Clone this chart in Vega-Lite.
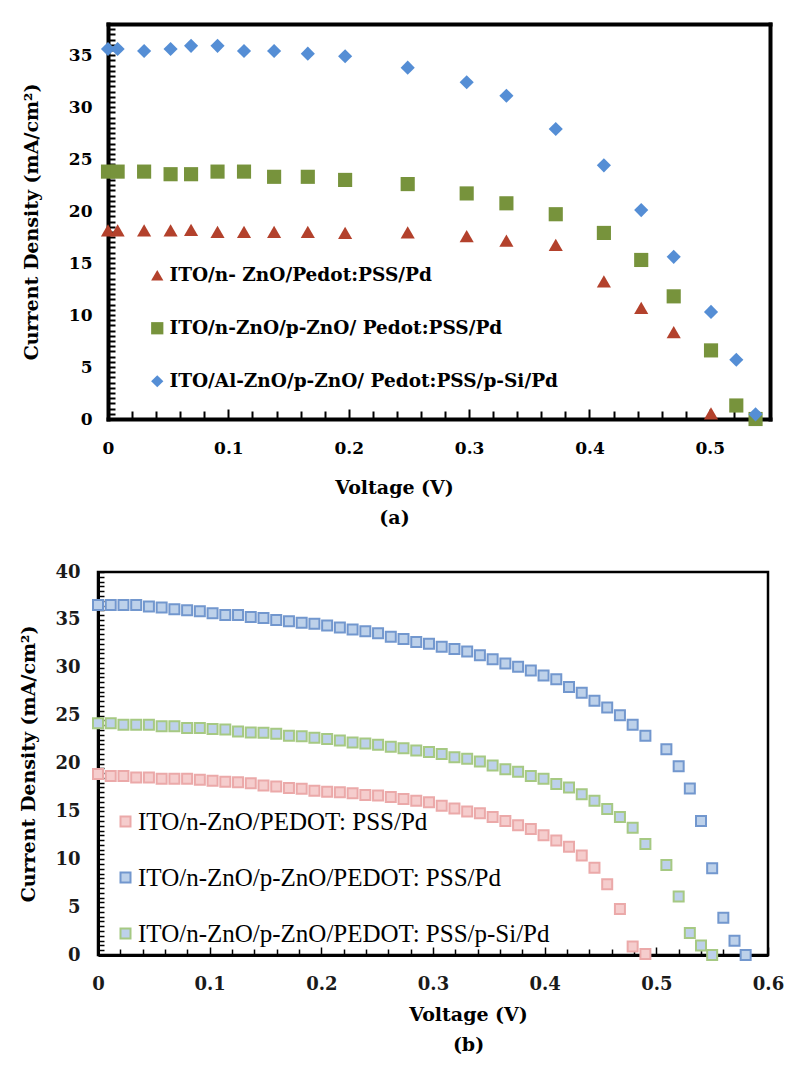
{
  "$schema": "https://vega.github.io/schema/vega-lite/v6.json",
  "background": "white",
  "padding": {"left": 17, "top": 15, "right": 5, "bottom": 5},
  "spacing": 34,
  "datasets": {
    "a": [
      {"V": 0, "J": 18.15, "s": "ITO/n- ZnO/Pedot:PSS/Pd"},
      {"V": 0.008, "J": 18.15, "s": "ITO/n- ZnO/Pedot:PSS/Pd"},
      {"V": 0.03, "J": 18.15, "s": "ITO/n- ZnO/Pedot:PSS/Pd"},
      {"V": 0.052, "J": 18.15, "s": "ITO/n- ZnO/Pedot:PSS/Pd"},
      {"V": 0.069, "J": 18.2, "s": "ITO/n- ZnO/Pedot:PSS/Pd"},
      {"V": 0.091, "J": 18.0, "s": "ITO/n- ZnO/Pedot:PSS/Pd"},
      {"V": 0.113, "J": 18.0, "s": "ITO/n- ZnO/Pedot:PSS/Pd"},
      {"V": 0.138, "J": 18.0, "s": "ITO/n- ZnO/Pedot:PSS/Pd"},
      {"V": 0.166, "J": 18.0, "s": "ITO/n- ZnO/Pedot:PSS/Pd"},
      {"V": 0.197, "J": 17.9, "s": "ITO/n- ZnO/Pedot:PSS/Pd"},
      {"V": 0.249, "J": 17.95, "s": "ITO/n- ZnO/Pedot:PSS/Pd"},
      {"V": 0.298, "J": 17.6, "s": "ITO/n- ZnO/Pedot:PSS/Pd"},
      {"V": 0.331, "J": 17.15, "s": "ITO/n- ZnO/Pedot:PSS/Pd"},
      {"V": 0.372, "J": 16.75, "s": "ITO/n- ZnO/Pedot:PSS/Pd"},
      {"V": 0.412, "J": 13.25, "s": "ITO/n- ZnO/Pedot:PSS/Pd"},
      {"V": 0.443, "J": 10.7, "s": "ITO/n- ZnO/Pedot:PSS/Pd"},
      {"V": 0.470, "J": 8.35, "s": "ITO/n- ZnO/Pedot:PSS/Pd"},
      {"V": 0.501, "J": 0.55, "s": "ITO/n- ZnO/Pedot:PSS/Pd"},
      {"V": 0, "J": 23.8, "s": "ITO/n-ZnO/p-ZnO/ Pedot:PSS/Pd"},
      {"V": 0.008, "J": 23.8, "s": "ITO/n-ZnO/p-ZnO/ Pedot:PSS/Pd"},
      {"V": 0.03, "J": 23.8, "s": "ITO/n-ZnO/p-ZnO/ Pedot:PSS/Pd"},
      {"V": 0.052, "J": 23.55, "s": "ITO/n-ZnO/p-ZnO/ Pedot:PSS/Pd"},
      {"V": 0.069, "J": 23.55, "s": "ITO/n-ZnO/p-ZnO/ Pedot:PSS/Pd"},
      {"V": 0.091, "J": 23.8, "s": "ITO/n-ZnO/p-ZnO/ Pedot:PSS/Pd"},
      {"V": 0.113, "J": 23.8, "s": "ITO/n-ZnO/p-ZnO/ Pedot:PSS/Pd"},
      {"V": 0.138, "J": 23.3, "s": "ITO/n-ZnO/p-ZnO/ Pedot:PSS/Pd"},
      {"V": 0.166, "J": 23.3, "s": "ITO/n-ZnO/p-ZnO/ Pedot:PSS/Pd"},
      {"V": 0.197, "J": 23.0, "s": "ITO/n-ZnO/p-ZnO/ Pedot:PSS/Pd"},
      {"V": 0.249, "J": 22.6, "s": "ITO/n-ZnO/p-ZnO/ Pedot:PSS/Pd"},
      {"V": 0.298, "J": 21.7, "s": "ITO/n-ZnO/p-ZnO/ Pedot:PSS/Pd"},
      {"V": 0.331, "J": 20.75, "s": "ITO/n-ZnO/p-ZnO/ Pedot:PSS/Pd"},
      {"V": 0.372, "J": 19.7, "s": "ITO/n-ZnO/p-ZnO/ Pedot:PSS/Pd"},
      {"V": 0.412, "J": 17.9, "s": "ITO/n-ZnO/p-ZnO/ Pedot:PSS/Pd"},
      {"V": 0.443, "J": 15.3, "s": "ITO/n-ZnO/p-ZnO/ Pedot:PSS/Pd"},
      {"V": 0.470, "J": 11.8, "s": "ITO/n-ZnO/p-ZnO/ Pedot:PSS/Pd"},
      {"V": 0.501, "J": 6.6, "s": "ITO/n-ZnO/p-ZnO/ Pedot:PSS/Pd"},
      {"V": 0.522, "J": 1.3, "s": "ITO/n-ZnO/p-ZnO/ Pedot:PSS/Pd"},
      {"V": 0.538, "J": 0, "s": "ITO/n-ZnO/p-ZnO/ Pedot:PSS/Pd"},
      {"V": 0, "J": 35.6, "s": "ITO/Al-ZnO/p-ZnO/ Pedot:PSS/p-Si/Pd"},
      {"V": 0.008, "J": 35.6, "s": "ITO/Al-ZnO/p-ZnO/ Pedot:PSS/p-Si/Pd"},
      {"V": 0.03, "J": 35.4, "s": "ITO/Al-ZnO/p-ZnO/ Pedot:PSS/p-Si/Pd"},
      {"V": 0.052, "J": 35.6, "s": "ITO/Al-ZnO/p-ZnO/ Pedot:PSS/p-Si/Pd"},
      {"V": 0.069, "J": 35.9, "s": "ITO/Al-ZnO/p-ZnO/ Pedot:PSS/p-Si/Pd"},
      {"V": 0.091, "J": 35.9, "s": "ITO/Al-ZnO/p-ZnO/ Pedot:PSS/p-Si/Pd"},
      {"V": 0.113, "J": 35.4, "s": "ITO/Al-ZnO/p-ZnO/ Pedot:PSS/p-Si/Pd"},
      {"V": 0.138, "J": 35.4, "s": "ITO/Al-ZnO/p-ZnO/ Pedot:PSS/p-Si/Pd"},
      {"V": 0.166, "J": 35.15, "s": "ITO/Al-ZnO/p-ZnO/ Pedot:PSS/p-Si/Pd"},
      {"V": 0.197, "J": 34.9, "s": "ITO/Al-ZnO/p-ZnO/ Pedot:PSS/p-Si/Pd"},
      {"V": 0.249, "J": 33.8, "s": "ITO/Al-ZnO/p-ZnO/ Pedot:PSS/p-Si/Pd"},
      {"V": 0.298, "J": 32.4, "s": "ITO/Al-ZnO/p-ZnO/ Pedot:PSS/p-Si/Pd"},
      {"V": 0.331, "J": 31.1, "s": "ITO/Al-ZnO/p-ZnO/ Pedot:PSS/p-Si/Pd"},
      {"V": 0.372, "J": 27.9, "s": "ITO/Al-ZnO/p-ZnO/ Pedot:PSS/p-Si/Pd"},
      {"V": 0.412, "J": 24.4, "s": "ITO/Al-ZnO/p-ZnO/ Pedot:PSS/p-Si/Pd"},
      {"V": 0.443, "J": 20.1, "s": "ITO/Al-ZnO/p-ZnO/ Pedot:PSS/p-Si/Pd"},
      {"V": 0.470, "J": 15.6, "s": "ITO/Al-ZnO/p-ZnO/ Pedot:PSS/p-Si/Pd"},
      {"V": 0.501, "J": 10.3, "s": "ITO/Al-ZnO/p-ZnO/ Pedot:PSS/p-Si/Pd"},
      {"V": 0.522, "J": 5.7, "s": "ITO/Al-ZnO/p-ZnO/ Pedot:PSS/p-Si/Pd"},
      {"V": 0.538, "J": 0.45, "s": "ITO/Al-ZnO/p-ZnO/ Pedot:PSS/p-Si/Pd"}
    ],
    "b": [
      {"V": 0, "J": 18.9, "t": "R"}, {"V": 0.0114, "J": 18.7, "t": "R"}, {"V": 0.0228, "J": 18.7, "t": "R"}, {"V": 0.0342, "J": 18.55, "t": "R"},
      {"V": 0.0456, "J": 18.55, "t": "R"}, {"V": 0.057, "J": 18.4, "t": "R"}, {"V": 0.0684, "J": 18.4, "t": "R"}, {"V": 0.0798, "J": 18.4, "t": "R"},
      {"V": 0.0912, "J": 18.3, "t": "R"}, {"V": 0.1026, "J": 18.2, "t": "R"}, {"V": 0.114, "J": 18.1, "t": "R"}, {"V": 0.1254, "J": 18.05, "t": "R"},
      {"V": 0.1368, "J": 17.95, "t": "R"}, {"V": 0.1482, "J": 17.7, "t": "R"}, {"V": 0.1596, "J": 17.6, "t": "R"}, {"V": 0.171, "J": 17.45, "t": "R"},
      {"V": 0.1824, "J": 17.35, "t": "R"}, {"V": 0.1938, "J": 17.15, "t": "R"}, {"V": 0.2052, "J": 17.05, "t": "R"}, {"V": 0.2166, "J": 17.0, "t": "R"},
      {"V": 0.228, "J": 16.9, "t": "R"}, {"V": 0.2394, "J": 16.7, "t": "R"}, {"V": 0.2508, "J": 16.65, "t": "R"}, {"V": 0.2622, "J": 16.5, "t": "R"},
      {"V": 0.2736, "J": 16.3, "t": "R"}, {"V": 0.285, "J": 16.1, "t": "R"}, {"V": 0.2964, "J": 15.95, "t": "R"}, {"V": 0.3078, "J": 15.6, "t": "R"},
      {"V": 0.3192, "J": 15.3, "t": "R"}, {"V": 0.3306, "J": 15.0, "t": "R"}, {"V": 0.342, "J": 14.8, "t": "R"}, {"V": 0.3534, "J": 14.4, "t": "R"},
      {"V": 0.3648, "J": 14.0, "t": "R"}, {"V": 0.3762, "J": 13.55, "t": "R"}, {"V": 0.3876, "J": 13.15, "t": "R"}, {"V": 0.399, "J": 12.5, "t": "R"},
      {"V": 0.4104, "J": 11.95, "t": "R"}, {"V": 0.4218, "J": 11.3, "t": "R"}, {"V": 0.4332, "J": 10.4, "t": "R"}, {"V": 0.4446, "J": 9.1, "t": "R"},
      {"V": 0.456, "J": 7.4, "t": "R"}, {"V": 0.4674, "J": 4.8, "t": "R"}, {"V": 0.4788, "J": 0.9, "t": "R"}, {"V": 0.4902, "J": 0.1, "t": "R"},
      {"V": 0, "J": 24.2, "t": "G"}, {"V": 0.0114, "J": 24.2, "t": "G"}, {"V": 0.0228, "J": 24.05, "t": "G"}, {"V": 0.0342, "J": 24.05, "t": "G"},
      {"V": 0.0456, "J": 24.05, "t": "G"}, {"V": 0.057, "J": 23.9, "t": "G"}, {"V": 0.0684, "J": 23.9, "t": "G"}, {"V": 0.0798, "J": 23.7, "t": "G"},
      {"V": 0.0912, "J": 23.7, "t": "G"}, {"V": 0.1026, "J": 23.6, "t": "G"}, {"V": 0.114, "J": 23.55, "t": "G"}, {"V": 0.1254, "J": 23.35, "t": "G"},
      {"V": 0.1368, "J": 23.25, "t": "G"}, {"V": 0.1482, "J": 23.2, "t": "G"}, {"V": 0.1596, "J": 23.1, "t": "G"}, {"V": 0.171, "J": 22.9, "t": "G"},
      {"V": 0.1824, "J": 22.85, "t": "G"}, {"V": 0.1938, "J": 22.7, "t": "G"}, {"V": 0.2052, "J": 22.55, "t": "G"}, {"V": 0.2166, "J": 22.4, "t": "G"},
      {"V": 0.228, "J": 22.2, "t": "G"}, {"V": 0.2394, "J": 22.1, "t": "G"}, {"V": 0.2508, "J": 21.95, "t": "G"}, {"V": 0.2622, "J": 21.75, "t": "G"},
      {"V": 0.2736, "J": 21.6, "t": "G"}, {"V": 0.285, "J": 21.35, "t": "G"}, {"V": 0.2964, "J": 21.2, "t": "G"}, {"V": 0.3078, "J": 21.0, "t": "G"},
      {"V": 0.3192, "J": 20.65, "t": "G"}, {"V": 0.3306, "J": 20.5, "t": "G"}, {"V": 0.342, "J": 20.2, "t": "G"}, {"V": 0.3534, "J": 19.8, "t": "G"},
      {"V": 0.3648, "J": 19.4, "t": "G"}, {"V": 0.3762, "J": 19.15, "t": "G"}, {"V": 0.3876, "J": 18.7, "t": "G"}, {"V": 0.399, "J": 18.4, "t": "G"},
      {"V": 0.4104, "J": 17.85, "t": "G"}, {"V": 0.4218, "J": 17.5, "t": "G"}, {"V": 0.4332, "J": 16.8, "t": "G"}, {"V": 0.4446, "J": 16.1, "t": "G"},
      {"V": 0.456, "J": 15.25, "t": "G"}, {"V": 0.4674, "J": 14.4, "t": "G"}, {"V": 0.4788, "J": 13.3, "t": "G"}, {"V": 0.4902, "J": 11.6, "t": "G"},
      {"V": 0.509, "J": 9.4, "t": "G"}, {"V": 0.52, "J": 6.1, "t": "G"}, {"V": 0.53, "J": 2.3, "t": "G"}, {"V": 0.54, "J": 1.0, "t": "G"}, {"V": 0.55, "J": 0, "t": "G"},
      {"V": 0, "J": 36.55, "t": "B"}, {"V": 0.0114, "J": 36.55, "t": "B"}, {"V": 0.0228, "J": 36.55, "t": "B"}, {"V": 0.0342, "J": 36.55, "t": "B"},
      {"V": 0.0456, "J": 36.4, "t": "B"}, {"V": 0.057, "J": 36.3, "t": "B"}, {"V": 0.0684, "J": 36.1, "t": "B"}, {"V": 0.0798, "J": 36.0, "t": "B"},
      {"V": 0.0912, "J": 35.9, "t": "B"}, {"V": 0.1026, "J": 35.7, "t": "B"}, {"V": 0.114, "J": 35.5, "t": "B"}, {"V": 0.1254, "J": 35.5, "t": "B"},
      {"V": 0.1368, "J": 35.3, "t": "B"}, {"V": 0.1482, "J": 35.2, "t": "B"}, {"V": 0.1596, "J": 35.0, "t": "B"}, {"V": 0.171, "J": 34.85, "t": "B"},
      {"V": 0.1824, "J": 34.7, "t": "B"}, {"V": 0.1938, "J": 34.6, "t": "B"}, {"V": 0.2052, "J": 34.4, "t": "B"}, {"V": 0.2166, "J": 34.2, "t": "B"},
      {"V": 0.228, "J": 34.0, "t": "B"}, {"V": 0.2394, "J": 33.8, "t": "B"}, {"V": 0.2508, "J": 33.6, "t": "B"}, {"V": 0.2622, "J": 33.25, "t": "B"},
      {"V": 0.2736, "J": 33.0, "t": "B"}, {"V": 0.285, "J": 32.7, "t": "B"}, {"V": 0.2964, "J": 32.5, "t": "B"}, {"V": 0.3078, "J": 32.2, "t": "B"},
      {"V": 0.3192, "J": 31.95, "t": "B"}, {"V": 0.3306, "J": 31.7, "t": "B"}, {"V": 0.342, "J": 31.3, "t": "B"}, {"V": 0.3534, "J": 30.9, "t": "B"},
      {"V": 0.3648, "J": 30.45, "t": "B"}, {"V": 0.3762, "J": 30.1, "t": "B"}, {"V": 0.3876, "J": 29.7, "t": "B"}, {"V": 0.399, "J": 29.2, "t": "B"},
      {"V": 0.4104, "J": 28.8, "t": "B"}, {"V": 0.4218, "J": 28.0, "t": "B"}, {"V": 0.4332, "J": 27.4, "t": "B"}, {"V": 0.4446, "J": 26.55, "t": "B"},
      {"V": 0.456, "J": 25.85, "t": "B"}, {"V": 0.4674, "J": 25.05, "t": "B"}, {"V": 0.4788, "J": 24.05, "t": "B"}, {"V": 0.4902, "J": 22.9, "t": "B"},
      {"V": 0.509, "J": 21.5, "t": "B"}, {"V": 0.52, "J": 19.7, "t": "B"}, {"V": 0.53, "J": 17.4, "t": "B"}, {"V": 0.54, "J": 14.0, "t": "B"},
      {"V": 0.55, "J": 9.05, "t": "B"}, {"V": 0.56, "J": 3.9, "t": "B"}, {"V": 0.57, "J": 1.5, "t": "B"}, {"V": 0.58, "J": 0, "t": "B"}
    ]
  },
  "vconcat": [
    {
      "width": 672,
      "height": 395,
      "view": {"stroke": null},
      "data": {"name": "a"},
      "resolve": {"axis": {"x": "independent", "y": "independent"}},
      "layer": [
        {
          "mark": {"type": "point", "filled": true, "opacity": 1, "size": 200, "strokeWidth": 0},
          "encoding": {
            "x": {
              "field": "V", "type": "quantitative",
              "scale": {"domain": [0, 0.55], "nice": false, "zero": false, "range": [10, 672]},
              "axis": {
                "title": ["Voltage (V)", "(a)"],
                "values": [0, 0.02, 0.04, 0.06, 0.08, 0.1, 0.12, 0.14, 0.16, 0.18, 0.2, 0.22, 0.24, 0.26, 0.28, 0.3, 0.32, 0.34, 0.36, 0.38, 0.4, 0.42, 0.44, 0.46, 0.48, 0.5, 0.52, 0.54],
                "labelExpr": "abs(datum.value*10 - round(datum.value*10)) < 0.001 ? format(datum.value, '.1~f') : ''",
                "labelOverlap": false, "labelFlush": false, "grid": false,
                "domainColor": "black", "domainWidth": 4, "domainCap": "square",
                "tickColor": "black", "tickWidth": 2,
                "tickSize": {"condition": {"test": "abs(datum.value*10 - round(datum.value*10)) < 0.001", "value": -10}, "value": -8},
                "labelPadding": 31,
                "labelFont": "DejaVu Serif", "labelFontWeight": "bold", "labelFontSize": 17, "labelColor": "black",
                "titleFont": "DejaVu Serif", "titleFontWeight": "bold", "titleFontSize": 19, "titleColor": "black",
                "titleLineHeight": 30, "titleX": 296, "titleY": 68, "titleBaseline": "middle", "titleAlign": "center"
              }
            },
            "y": {
              "field": "J", "type": "quantitative",
              "scale": {"domain": [0, 38], "nice": false},
              "axis": {
                "title": "Current Density (mA/cm²)",
                "offset": -10,
                "values": [0, 0.5, 1, 1.5, 2, 2.5, 3, 3.5, 4, 4.5, 5, 5.5, 6, 6.5, 7, 7.5, 8, 8.5, 9, 9.5, 10, 10.5, 11, 11.5, 12, 12.5, 13, 13.5, 14, 14.5, 15, 15.5, 16, 16.5, 17, 17.5, 18, 18.5, 19, 19.5, 20, 20.5, 21, 21.5, 22, 22.5, 23, 23.5, 24, 24.5, 25, 25.5, 26, 26.5, 27, 27.5, 28, 28.5, 29, 29.5, 30, 30.5, 31, 31.5, 32, 32.5, 33, 33.5, 34, 34.5, 35, 35.5, 36, 36.5, 37, 37.5, 38],
                "labelExpr": "datum.value % 5 === 0 ? format(datum.value, 'd') : ''",
                "labelOverlap": false, "grid": false,
                "domainColor": "black", "domainWidth": 4, "domainCap": "square",
                "tickColor": "black", "tickWidth": 2, "tickSize": -7,
                "labelPadding": 23,
                "labelFont": "DejaVu Serif", "labelFontWeight": "bold", "labelFontSize": 17, "labelColor": "black",
                "titleFont": "DejaVu Serif", "titleFontWeight": "bold", "titleFontSize": 19, "titleColor": "black",
                "titleX": -77, "titleBaseline": "middle"
              }
            },
            "color": {
              "field": "s", "type": "nominal",
              "scale": {"domain": ["ITO/n- ZnO/Pedot:PSS/Pd", "ITO/n-ZnO/p-ZnO/ Pedot:PSS/Pd", "ITO/Al-ZnO/p-ZnO/ Pedot:PSS/p-Si/Pd"], "range": ["#B3412C", "#77933C", "#558ED5"]},
              "legend": {"orient": "none", "legendX": 50, "legendY": 242, "title": null, "padding": 0, "rowPadding": 34, "symbolSize": 150, "symbolStrokeWidth": 0, "labelOffset": 3, "labelFont": "DejaVu Serif", "labelFontWeight": "bold", "labelFontSize": 18.5, "labelColor": "black", "labelLimit": 600}
            },
            "shape": {
              "field": "s", "type": "nominal",
              "scale": {"domain": ["ITO/n- ZnO/Pedot:PSS/Pd", "ITO/n-ZnO/p-ZnO/ Pedot:PSS/Pd", "ITO/Al-ZnO/p-ZnO/ Pedot:PSS/p-Si/Pd"], "range": ["triangle-up", "square", "diamond"]},
              "legend": {"orient": "none", "legendX": 50, "legendY": 242, "title": null, "padding": 0, "rowPadding": 34, "symbolSize": 150, "symbolStrokeWidth": 0, "labelOffset": 3, "labelFont": "DejaVu Serif", "labelFontWeight": "bold", "labelFontSize": 18.5, "labelColor": "black", "labelLimit": 600}
            }
          }
        },
        {
          "mark": {"type": "point", "opacity": 0},
          "encoding": {
            "x": {"field": "V", "type": "quantitative", "axis": {"orient": "top", "title": null, "labels": false, "ticks": false, "grid": false, "domainColor": "black", "domainWidth": 4, "domainCap": "square"}},
            "y": {"field": "J", "type": "quantitative", "axis": {"orient": "right", "title": null, "labels": false, "ticks": false, "grid": false, "domainColor": "black", "domainWidth": 4, "domainCap": "square"}}
          }
        }
      ]
    },
    {
      "width": 670,
      "height": 383,
      "view": {"stroke": "black", "strokeWidth": 2.5},
      "data": {"name": "b"},
      "mark": {"type": "point", "shape": "square", "filled": true, "opacity": 1, "size": 100, "strokeWidth": 2},
      "encoding": {
        "x": {
          "field": "V", "type": "quantitative",
          "scale": {"domain": [0, 0.6], "nice": false, "zero": false},
          "axis": {
            "title": ["Voltage (V)", "(b)"],
            "values": [0, 0.02, 0.04, 0.06, 0.08, 0.1, 0.12, 0.14, 0.16, 0.18, 0.2, 0.22, 0.24, 0.26, 0.28, 0.3, 0.32, 0.34, 0.36, 0.38, 0.4, 0.42, 0.44, 0.46, 0.48, 0.5, 0.52, 0.54, 0.56, 0.58, 0.6],
            "labelExpr": "abs(datum.value*10 - round(datum.value*10)) < 0.001 ? format(datum.value, '.1~f') : ''",
            "labelOverlap": false, "labelFlush": false, "grid": false,
            "domainColor": "black", "domainWidth": 3,
            "tickColor": "black", "tickWidth": 1.5,
            "tickSize": {"condition": {"test": "abs(datum.value*10 - round(datum.value*10)) < 0.001", "value": -8}, "value": -6},
            "labelPadding": 28,
            "labelFont": "DejaVu Serif", "labelFontWeight": "bold", "labelFontSize": 18, "labelColor": "#1a1a1a",
            "titleFont": "DejaVu Serif", "titleFontWeight": "bold", "titleFontSize": 19, "titleColor": "black",
            "titleLineHeight": 30, "titleX": 370, "titleY": 59, "titleBaseline": "middle", "titleAlign": "center"
          }
        },
        "y": {
          "field": "J", "type": "quantitative",
          "scale": {"domain": [0, 40], "nice": false},
          "axis": {
            "title": "Current Density (mA/cm²)",
            "values": [0, 0.5, 1, 1.5, 2, 2.5, 3, 3.5, 4, 4.5, 5, 5.5, 6, 6.5, 7, 7.5, 8, 8.5, 9, 9.5, 10, 10.5, 11, 11.5, 12, 12.5, 13, 13.5, 14, 14.5, 15, 15.5, 16, 16.5, 17, 17.5, 18, 18.5, 19, 19.5, 20, 20.5, 21, 21.5, 22, 22.5, 23, 23.5, 24, 24.5, 25, 25.5, 26, 26.5, 27, 27.5, 28, 28.5, 29, 29.5, 30, 30.5, 31, 31.5, 32, 32.5, 33, 33.5, 34, 34.5, 35, 35.5, 36, 36.5, 37, 37.5, 38, 38.5, 39, 39.5, 40],
            "labelExpr": "datum.value % 5 === 0 ? format(datum.value, 'd') : ''",
            "labelOverlap": false, "grid": false,
            "domainColor": "black", "domainWidth": 3,
            "tickColor": "black", "tickWidth": 1.5, "tickSize": -6,
            "labelPadding": 24,
            "labelFont": "DejaVu Serif", "labelFontWeight": "bold", "labelFontSize": 18, "labelColor": "#1a1a1a",
            "titleFont": "DejaVu Serif", "titleFontWeight": "bold", "titleFontSize": 19, "titleColor": "black",
            "titleX": -70, "titleBaseline": "middle"
          }
        },
        "fill": {
          "field": "t", "type": "nominal",
          "scale": {"domain": ["R", "B", "G"], "range": ["#F5CDCD", "#BDD1EA", "#BDD1EA"]},
          "legend": {"orient": "none", "legendX": 15, "legendY": 237, "title": null, "padding": 0, "rowPadding": 30, "symbolSize": 100, "symbolStrokeWidth": 2, "labelOffset": 0, "labelFont": "Liberation Serif", "labelFontSize": 25, "labelColor": "black", "labelLimit": 600,
            "labelExpr": "datum.value === 'R' ? 'ITO/n-ZnO/PEDOT: PSS/Pd' : datum.value === 'B' ? 'ITO/n-ZnO/p-ZnO/PEDOT: PSS/Pd' : 'ITO/n-ZnO/p-ZnO/PEDOT: PSS/p-Si/Pd'"}
        },
        "stroke": {
          "field": "t", "type": "nominal",
          "scale": {"domain": ["R", "B", "G"], "range": ["#EBA9A9", "#7297CE", "#A6C983"]},
          "legend": {"orient": "none", "legendX": 15, "legendY": 237, "title": null, "padding": 0, "rowPadding": 30, "symbolSize": 100, "symbolStrokeWidth": 2, "labelOffset": 0, "labelFont": "Liberation Serif", "labelFontSize": 25, "labelColor": "black", "labelLimit": 600,
            "labelExpr": "datum.value === 'R' ? 'ITO/n-ZnO/PEDOT: PSS/Pd' : datum.value === 'B' ? 'ITO/n-ZnO/p-ZnO/PEDOT: PSS/Pd' : 'ITO/n-ZnO/p-ZnO/PEDOT: PSS/p-Si/Pd'"}
        }
      }
    }
  ],
  "resolve": {"scale": {"color": "independent", "shape": "independent", "fill": "independent", "stroke": "independent"}}
}
